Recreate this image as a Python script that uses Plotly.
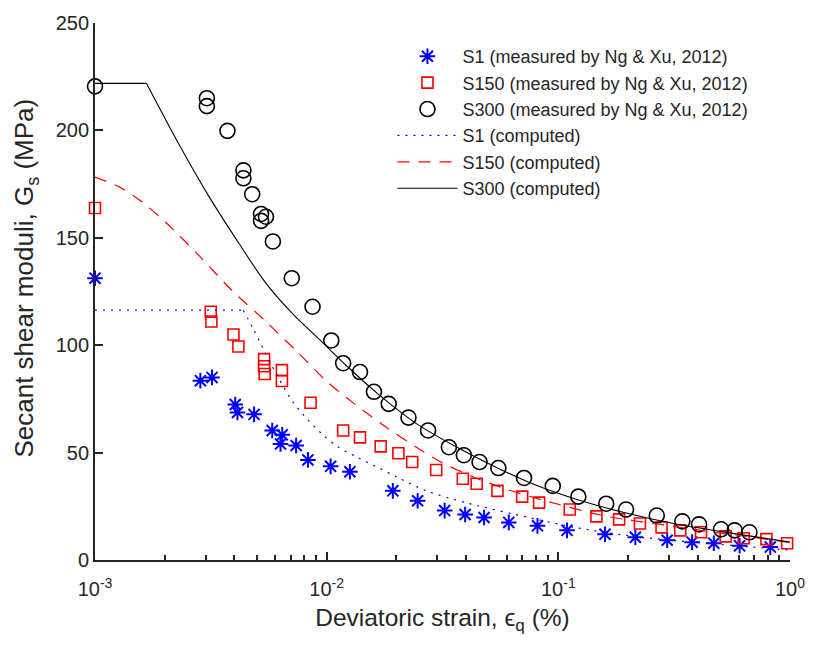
import plotly.graph_objects as go

# ---------------- data ----------------
s1_x = [0.001, 0.00285, 0.0032, 0.00403, 0.00412, 0.00486, 0.00582, 0.00643, 0.00632, 0.00738,
        0.0083, 0.0104, 0.0126, 0.0193, 0.0247, 0.0323, 0.0396, 0.0478, 0.0611, 0.0813,
        0.109, 0.159, 0.215, 0.295, 0.378, 0.469, 0.606, 0.822]
s1_y = [131.2, 83.5, 85.0, 72.4, 68.7, 67.8, 60.3, 58.3, 54.0, 53.3,
        46.6, 43.6, 41.1, 32.2, 27.6, 23.0, 21.2, 19.8, 17.5, 15.9,
        13.8, 12.0, 10.6, 9.2, 8.3, 7.8, 6.6, 6.0]

s150_x = [0.001, 0.00316, 0.00318, 0.00396, 0.00416, 0.00537, 0.00537, 0.0054, 0.00641, 0.00641,
          0.00852, 0.01178, 0.01393, 0.0171, 0.0204, 0.0234, 0.0297, 0.0387, 0.0444, 0.0546,
          0.0698, 0.0826, 0.112, 0.146, 0.183, 0.225, 0.279, 0.336, 0.413, 0.528,
          0.631, 0.791, 0.972]
s150_y = [163.9, 115.6, 111.0, 105.0, 99.4, 93.5, 90.2, 86.6, 88.4, 83.3,
          73.2, 60.3, 57.1, 52.9, 49.7, 45.6, 41.9, 37.8, 35.5, 32.2,
          29.5, 26.7, 23.5, 20.3, 18.9, 17.0, 15.2, 13.8, 12.9, 11.0,
          10.1, 9.7, 7.8]

s300_x = [0.001, 0.00304, 0.00304, 0.00373, 0.00437, 0.00437, 0.00477, 0.00521, 0.00547, 0.00521,
          0.00586, 0.00707, 0.00869, 0.01047, 0.01178, 0.01393, 0.0160, 0.01853, 0.02255, 0.0274,
          0.0337, 0.0391, 0.0457, 0.0551, 0.0711, 0.0946, 0.122, 0.161, 0.196, 0.266,
          0.343, 0.405, 0.504, 0.577, 0.668]
s300_y = [220.5, 215.0, 211.3, 199.8, 181.4, 177.7, 170.3, 161.1, 159.8, 157.9,
          148.3, 131.2, 117.9, 102.2, 91.6, 87.5, 78.3, 72.7, 66.3, 60.3,
          52.5, 48.8, 45.6, 42.8, 38.2, 34.5, 29.5, 26.2, 23.5, 20.7,
          18.0, 16.6, 14.3, 13.8, 12.9]

# computed curves: a flat (plateau) part and a decaying part that starts at the corner
c1_flat_x = [0.001, 0.004367]
c1_flat_y = [116.3, 116.3]
c1_x = [0.004367, 0.004818, 0.005421, 0.006161, 0.007137, 0.008273, 0.009585, 0.01111,
        0.01352, 0.01645, 0.02003, 0.02691, 0.03986, 0.06515, 0.1175, 0.2119, 0.3821, 0.6892, 1.0]
c1_y = [116.3, 107.7, 96.7, 85.2, 73.7, 65.4, 58.5, 52.9,
        47.9, 43.3, 38.7, 32.2, 26.7, 21.2, 15.2, 11.0, 8.3, 6.0, 4.6]

c150_x = [0.001, 0.001279, 0.001556, 0.002029, 0.002806, 0.003882, 0.005421, 0.007497, 0.01007,
          0.01352, 0.01763, 0.02439, 0.03178, 0.04396, 0.06081, 0.0875, 0.1625, 0.314, 0.4342,
          0.6892, 1.0]
c150_y = [178.3, 173.6, 167.6, 157.0, 141.8, 125.7, 111.4, 96.7, 82.9,
          71.8, 62.6, 52.5, 45.1, 38.2, 32.7, 27.6, 20.3, 15.7, 13.4,
          10.6, 8.1]

c300_flat_x = [0.001, 0.001667]
c300_flat_y = [221.9, 221.9]
c300_x = [0.001667, 0.002306, 0.003097, 0.004158, 0.005421, 0.007137, 0.009399, 0.01225,
          0.01645, 0.02439, 0.03721, 0.05352, 0.0793, 0.1175, 0.192, 0.314, 0.5661, 1.0]
c300_y = [221.9, 193.4, 169.4, 147.8, 129.4, 114.6, 102.2, 90.2,
          77.8, 63.5, 52.0, 43.3, 35.0, 28.5, 22.1, 17.0, 12.4, 8.3]

x_tickvals = [0.001, 0.01, 0.1, 1]
x_ticktext = ["10<sup>-3</sup>", "10<sup>-2</sup>", "10<sup>-1</sup>", "10<sup>0</sup>"]
y_tickvals = [0, 50, 100, 150, 200, 250]

names = ["S1 (measured by Ng & Xu, 2012)", "S150 (measured by Ng & Xu, 2012)",
         "S300 (measured by Ng & Xu, 2012)", "S1 (computed)", "S150 (computed)", "S300 (computed)"]
x_title = "Deviatoric strain, \u03f5<sub>q</sub> (%)"
y_title = "Secant shear moduli, G<sub>s</sub> (MPa)"

# ---------------- figure ----------------
AX = "#262626"
FONT = "Liberation Sans, Arial, sans-serif"
BLUE_LINE = dict(color="#0000ff", width=1.2, dash="2px,6px")
RED_LINE = dict(color="#ff0000", width=1.2, dash="12px,9px")
BLACK_LINE = dict(color="#000000", width=1.1)

fig = go.Figure()
fig.add_trace(go.Scatter(x=s1_x, y=s1_y, mode="markers", name=names[0], cliponaxis=False,
                         marker=dict(symbol="asterisk-open", size=13, color="#0000ff",
                                     line=dict(color="#0000ff", width=2))))
fig.add_trace(go.Scatter(x=s150_x, y=s150_y, mode="markers", name=names[1], cliponaxis=False,
                         marker=dict(symbol="square-open", size=11, color="#ff0000",
                                     line=dict(color="#ff0000", width=1.6))))
fig.add_trace(go.Scatter(x=s300_x, y=s300_y, mode="markers", name=names[2], cliponaxis=False,
                         marker=dict(symbol="circle-open", size=15, color="#000000",
                                     line=dict(color="#000000", width=1.6))))

fig.add_trace(go.Scatter(x=c1_x, y=c1_y, mode="lines", name=names[3], legendgroup="c1",
                         line=dict(**BLUE_LINE, shape="spline", smoothing=0.8)))
fig.add_trace(go.Scatter(x=c1_flat_x, y=c1_flat_y, mode="lines", legendgroup="c1",
                         showlegend=False, line=BLUE_LINE))
fig.add_trace(go.Scatter(x=c150_x, y=c150_y, mode="lines", name=names[4],
                         line=dict(**RED_LINE, shape="spline", smoothing=0.8)))
fig.add_trace(go.Scatter(x=c300_x, y=c300_y, mode="lines", name=names[5], legendgroup="c300",
                         line=dict(**BLACK_LINE, shape="spline", smoothing=0.8)))
fig.add_trace(go.Scatter(x=c300_flat_x, y=c300_flat_y, mode="lines", legendgroup="c300",
                         showlegend=False, line=BLACK_LINE))

fig.update_layout(
    width=817, height=648,
    margin=dict(l=95, r=19, t=17, b=88),
    paper_bgcolor="white", plot_bgcolor="white",
    font=dict(family=FONT, color=AX, size=18),
    showlegend=True,
    legend=dict(x=0.428, y=0.972, xanchor="left", yanchor="top",
                bgcolor="rgba(255,255,255,0)", borderwidth=0,
                font=dict(size=18, color=AX, family=FONT),
                itemwidth=60, tracegroupgap=0),
    xaxis=dict(type="log", range=[-3, 0], tickvals=x_tickvals, ticktext=x_ticktext,
               ticks="inside", ticklen=8, tickwidth=1.5, tickcolor=AX,
               showline=True, linecolor=AX, linewidth=1.8, mirror=False,
               showgrid=False, zeroline=False, ticklabelstandoff=10,
               tickfont=dict(size=20, color=AX, family=FONT),
               minor=dict(ticks="inside", ticklen=5, tickwidth=1.5, tickcolor=AX,
                          dtick="D1", showgrid=False),
               title=dict(text=x_title, font=dict(size=24.5, color=AX, family=FONT), standoff=10)),
    yaxis=dict(range=[0, 250], tickvals=y_tickvals,
               ticks="inside", ticklen=8, tickwidth=1.5, tickcolor=AX,
               showline=True, linecolor=AX, linewidth=1.8, mirror=False,
               showgrid=False, zeroline=False,
               tickfont=dict(size=20, color=AX, family=FONT)),
    annotations=[dict(text=y_title, textangle=-90, showarrow=False,
                      xref="paper", yref="paper", x=-0.1, y=0.525,
                      xanchor="center", yanchor="middle",
                      font=dict(size=26, color=AX, family=FONT))],
)

fig.write_html("out.html")
